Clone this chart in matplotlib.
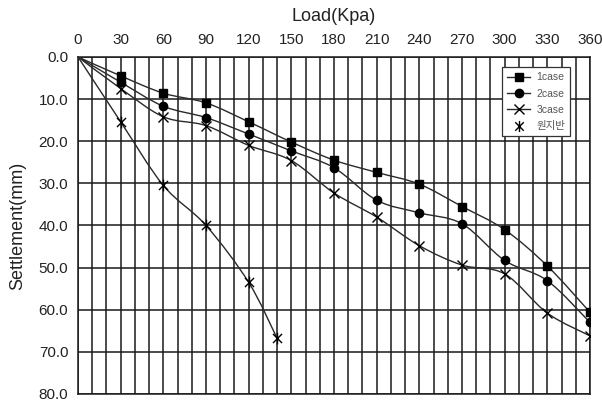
import numpy as np
import matplotlib.pyplot as plt
from matplotlib.path import Path
from matplotlib.patches import PathPatch
from matplotlib.lines import Line2D

plt.rcParams['font.family'] = ['Liberation Sans', 'Noto Sans CJK KR', 'DejaVu Sans']

# -------------------------------
# data
# -------------------------------
load = [0, 30, 60, 90, 120, 150, 180, 210, 240, 270, 300, 330, 360]
case1 = [0, 4.5, 8.6, 10.9, 15.4, 20.2, 24.5, 27.4, 30.2, 35.5, 41.0, 49.6, 60.6]
case2 = [0, 6.0, 11.7, 14.4, 18.3, 22.3, 26.3, 34.0, 37.0, 39.6, 48.3, 53.1, 63.0]
case3 = [0, 7.5, 14.2, 16.3, 21.0, 24.6, 32.3, 38.0, 44.8, 49.4, 51.5, 60.8, 66.2]
ground_load = [0, 30, 60, 90, 120, 140]
ground = [0, 15.4, 30.5, 40.0, 53.5, 66.8]

series_names = ["1case", "2case", "3case", "원지반"]

x_ticks = list(range(0, 361, 30))
y_ticks = list(range(0, 81, 10))

# asterisk marker (x with a vertical stroke)
star_path = Path(
    [(-1, -1), (1, 1), (-1, 1), (1, -1), (0, -1.3), (0, 1.3)],
    [Path.MOVETO, Path.LINETO, Path.MOVETO, Path.LINETO, Path.MOVETO, Path.LINETO],
)


def smooth_path(xs, ys):
    """Bezier path through the points (Excel style smoothed line)"""
    pts = np.column_stack([xs, ys]).astype(float)
    n = len(pts)
    verts = [pts[0]]
    codes = [Path.MOVETO]
    for i in range(n - 1):
        p0 = pts[i - 1] if i > 0 else pts[i]
        p1 = pts[i]
        p2 = pts[i + 1]
        p3 = pts[i + 2] if i + 2 < n else pts[i + 1]
        c1 = p1 + (p2 - p0) / 6.0
        c2 = p2 - (p3 - p1) / 6.0
        verts += [c1, c2, p2]
        codes += [Path.CURVE4] * 3
    return Path(verts, codes)


fig, ax = plt.subplots(figsize=(6.02, 4.01), dpi=100)
fig.subplots_adjust(left=0.1296, right=0.980, top=0.858, bottom=0.0175)

line_color = "#2a2a2a"
all_series = [
    (load, case1, dict(marker="s", ms=6)),
    (load, case2, dict(marker="o", ms=6)),
    (load, case3, dict(marker="x", ms=7, mew=1.0)),
    (ground_load, ground, dict(marker=star_path, ms=8.5, mew=1.0, mfc="none")),
]

for xs, ys, mk in all_series:
    ax.add_patch(PathPatch(smooth_path(xs, ys), facecolor="none",
                           edgecolor=line_color, lw=1.0, zorder=3))
    ax.plot(xs[1:], ys[1:], linestyle="none", color="black", zorder=4, **mk)

ax.set_xlim(0, 360)
ax.set_ylim(80, 0)
ax.xaxis.tick_top()
ax.xaxis.set_label_position("top")
ax.set_xticks(x_ticks)
ax.set_xticks(range(0, 361, 10), minor=True)
ax.set_yticks(y_ticks)
ax.set_yticklabels([f"{v:.1f}" for v in y_ticks])
ax.tick_params(axis="both", which="both", length=0, labelsize=11, pad=7,
               labelcolor="#222222")
ax.grid(True, which="both", axis="x", color="#1a1a1a", lw=1.1)
ax.grid(True, which="major", axis="y", color="#1a1a1a", lw=1.1)
for sp in ax.spines.values():
    sp.set_color("#1a1a1a")
    sp.set_linewidth(1.1)

ax.set_xlabel("Load(Kpa)", fontsize=13, labelpad=9, color="#222222")
ax.set_ylabel("Settlement(mm)", fontsize=13, labelpad=9, color="#222222")

handles = [
    Line2D([], [], color=line_color, lw=1.0, marker="s", ms=6, mfc="black", mec="black"),
    Line2D([], [], color=line_color, lw=1.0, marker="o", ms=6, mfc="black", mec="black"),
    Line2D([], [], color=line_color, lw=1.0, marker="x", ms=7, mec="black", mew=1.0),
    Line2D([], [], linestyle="none", marker=star_path, ms=8, mec="black", mfc="none", mew=1.0),
]
leg = ax.legend(handles, series_names, loc="upper right",
                bbox_to_anchor=(0.972, 0.985), fontsize=7.5, frameon=True,
                fancybox=False, edgecolor="#333333", framealpha=1,
                handlelength=2.2, handletextpad=0.6, labelspacing=0.6,
                borderpad=0.5)
leg.get_frame().set_linewidth(0.9)
for t in leg.get_texts():
    t.set_color("#555555")

fig.savefig("out.png", dpi=100)
